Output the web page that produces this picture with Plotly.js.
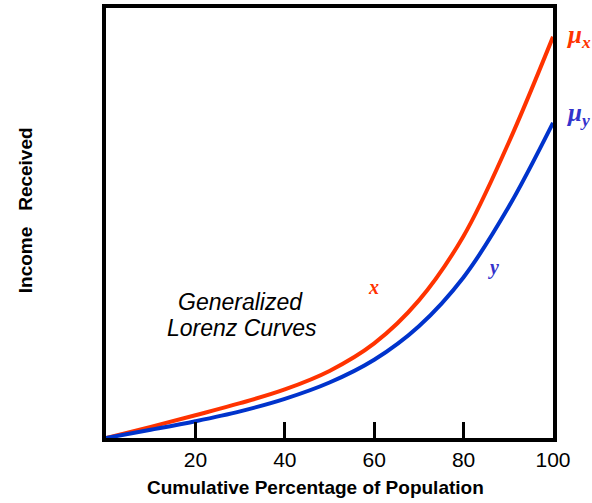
<!DOCTYPE html>
<html>
<head>
<meta charset="utf-8">
<script src="https://cdn.plot.ly/plotly-3.0.1.min.js"></script>
<style>html,body{margin:0;padding:0;background:#fff;}#chart{width:592px;height:503px;}</style>
</head>
<body>
<div id="chart"></div>
<script>
const population = [0, 10, 20, 30, 40, 50, 60, 70, 80, 90, 100];
const incomeX = [0, 2.6, 5.3, 8.1, 11.3, 15.6, 22.0, 32.0, 47.0, 68.5, 93.3];
const incomeY = [0, 1.9, 3.9, 6.2, 9.1, 12.9, 18.2, 26.0, 37.4, 53.6, 73.3];
const tickVals = [20, 40, 60, 80, 100];
const tickText = ['20', '40', '60', '80', '100'];

const traces = [
  {x: population, y: incomeX, mode: 'lines', line: {color: '#ff3300', width: 4, shape: 'spline'}, hoverinfo: 'skip'},
  {x: population, y: incomeY, mode: 'lines', line: {color: '#0033cc', width: 4, shape: 'spline'}, hoverinfo: 'skip'}
];

const serif = 'Liberation Serif, Times New Roman, serif';
const sans = 'Liberation Sans, Arial, sans-serif';
const layout = {
  width: 592, height: 503,
  margin: {l: 106, r: 39, t: 8, b: 65},
  paper_bgcolor: '#fff', plot_bgcolor: '#fff',
  showlegend: false,
  xaxis: {
    range: [0, 100], showgrid: false, zeroline: false,
    showline: true, linewidth: 4, linecolor: '#000', mirror: true,
    ticks: 'inside', ticklen: 16, tickwidth: 3, tickcolor: '#000',
    tickvals: tickVals, ticktext: tickText,
    tickfont: {family: sans, size: 21, color: '#000'}
  },
  yaxis: {
    range: [0, 100], showgrid: false, zeroline: false,
    showline: true, linewidth: 4, linecolor: '#000', mirror: true,
    ticks: '', showticklabels: false
  },
  annotations: [
    {xref: 'paper', yref: 'paper', x: 0.469, xanchor: 'center', y: -0.115, yanchor: 'middle', showarrow: false,
     text: '<b>Cumulative Percentage of Population</b>',
     font: {family: sans, size: 19, color: '#000'}},
    {xref: 'paper', yref: 'paper', x: -0.181, xanchor: 'center', y: 0.53, yanchor: 'middle', textangle: -90, showarrow: false,
     text: '<b>Income   Received</b>',
     font: {family: sans, size: 19, color: '#000'}},
    {xref: 'x', yref: 'y', x: 30.2, y: 31.6, showarrow: false,
     text: '<i>Generalized</i>',
     font: {family: sans, size: 23, color: '#000'}},
    {xref: 'x', yref: 'y', x: 30.4, y: 25.6, showarrow: false,
     text: '<i>Lorenz Curves</i>',
     font: {family: sans, size: 23, color: '#000'}},
    {xref: 'x', yref: 'y', x: 59.8, y: 35.2, showarrow: false,
     text: '<b><i>x</i></b>', font: {family: serif, size: 20, color: '#ff3300'}},
    {xref: 'x', yref: 'y', x: 86.6, y: 39.6, showarrow: false,
     text: '<b><i>y</i></b>', font: {family: serif, size: 20, color: '#3333cc'}},
    {xref: 'paper', yref: 'y', x: 1.025, xanchor: 'left', y: 93.4, showarrow: false,
     text: '<b><i>μ<sub>x</sub></i></b>', font: {family: serif, size: 25, color: '#ff3300'}},
    {xref: 'paper', yref: 'y', x: 1.025, xanchor: 'left', y: 75.2, showarrow: false,
     text: '<b><i>μ<sub>y</sub></i></b>', font: {family: serif, size: 25, color: '#3333cc'}}
  ]
};

Plotly.newPlot('chart', traces, layout, {staticPlot: true, displayModeBar: false});
</script>
</body>
</html>
